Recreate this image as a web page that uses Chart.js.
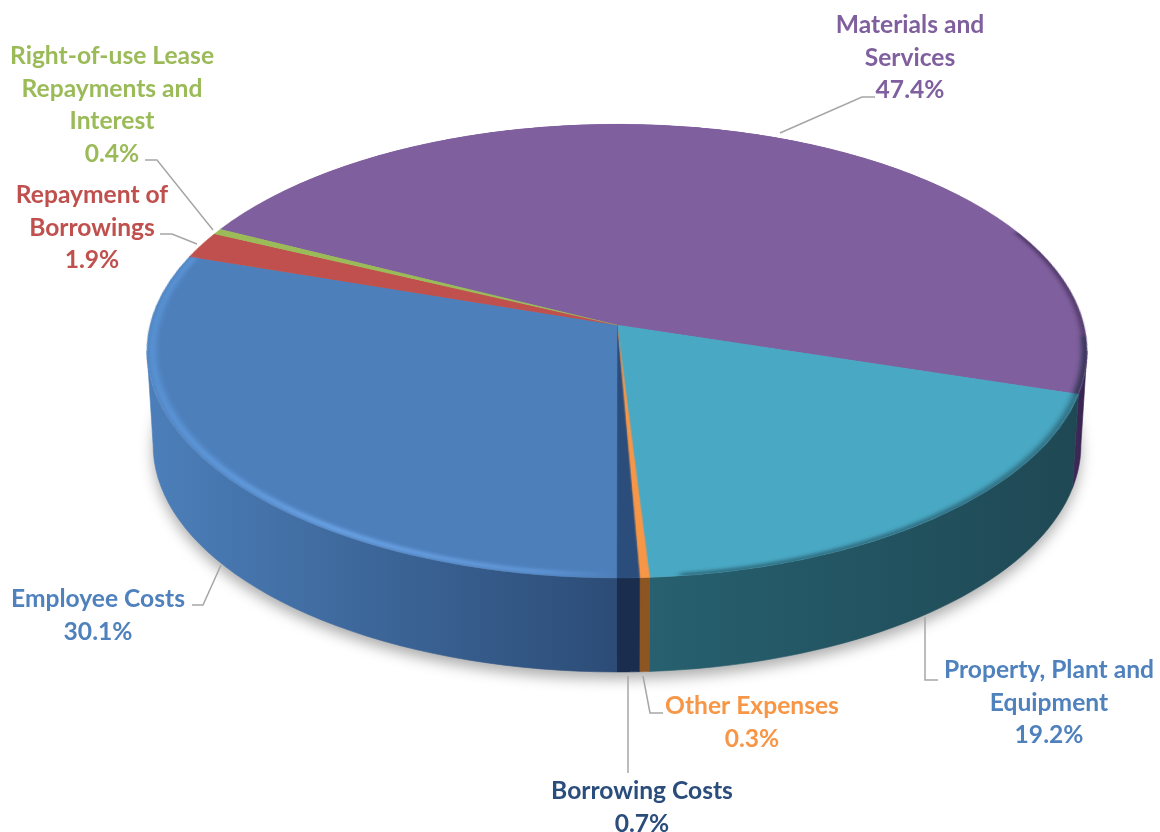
<!DOCTYPE html>
<html>
<head>
<meta charset="utf-8">
<title>Expenditure by category</title>
<script src="https://cdn.jsdelivr.net/npm/chart.js@4/dist/chart.umd.js"></script>
<style>
  html, body { margin: 0; padding: 0; background: #fff; }
  #wrap { position: relative; width: 1160px; height: 832px; overflow: hidden; }
  #deck { position: absolute; left: 0; top: 0; }
  /* the pie is drawn round, then tilted in perspective around its own centre */
  #pie {
    position: absolute; left: 167px; top: -125px;
    transform-origin: 450px 450px;
  }
</style>
</head>
<body>
<div id="wrap">
  <canvas id="deck" width="1160" height="832"></canvas>
  <canvas id="pie" width="900" height="900"></canvas>
</div>
<script>
// Slices, clockwise from the upper left
const categories = ['Materials and Services', 'Property, Plant and Equipment', 'Other Expenses', 'Borrowing Costs', 'Employee Costs', 'Repayment of Borrowings', 'Right-of-use Lease Repayments and Interest'];
const shares = [47.4, 19.2, 0.3, 0.7, 30.1, 1.9, 0.4];

// Colours for the top face and the side wall (left end, right end)
const topColours = ['#7F5F9D', '#49A8C3', '#F79646', '#2A4D7C', '#4D7FBB', '#C0504D', '#9BBB59'];
const wallColours = [['#40295A', '#35234C'], ['#27606F', '#1F4854'], ['#8C5522', '#8C5522'], ['#1A2D4E', '#1A2D4E'], ['#4C7FBA', '#2C4C76'], ['#7A3230', '#7A3230'], ['#627A38', '#627A38']];
const labelColours = ['#7F5F9D', '#4F81BD', '#F79646', '#2A4D7C', '#4F81BD', '#C0504D', '#9BBB59'];

// Perspective of the disc: apex position on the page, scale and foreshortening
const apexX = 617;
const apexY = 325;
const tiltA = 466.9;
const tiltB = 224;
const tiltP = -0.1145;
const discDepth = 94;
const bottomShrink = 0.987;
const pieRadius = 440;
// rim angle where the disc outline is widest, the wall's silhouette starts there
const widestAngle = 0.115;

// Label text blocks, same order as categories
const labelBlocks = [
    { x: 910, y: 25, lines: ['Materials and', 'Services'] },
    { x: 1049, y: 670, lines: ['Property, Plant and', 'Equipment'] },
    { x: 752, y: 706, lines: ['Other Expenses'] },
    { x: 642, y: 791, lines: ['Borrowing Costs'] },
    { x: 98, y: 599, lines: ['Employee Costs'] },
    { x: 92, y: 195, lines: ['Repayment of', 'Borrowings'] },
    { x: 112, y: 56, lines: ['Right-of-use Lease', 'Repayments and', 'Interest'] }
];
const leaderLines = [
    [[875, 97], [862, 97], [780, 133]],
    [[938, 680], [925, 680], [925, 617]],
    [[663, 713], [650, 713], [643, 676]],
    [[628, 773], [628, 676]],
    [[192, 605], [203, 605], [221, 565]],
    [[160, 234], [172, 234], [197, 244]],
    [[145, 160], [157, 160], [213, 230]]
];

const pieCanvas = document.getElementById('pie');
pieCanvas.style.transform = 'matrix3d(' + [
    tiltA / pieRadius, 0, 0, 0,
    0, tiltB / pieRadius, 0, tiltP / pieRadius,
    0, 0, 1, 0,
    0, 0, 0, 1
].join(',') + ')';

// Where a rim angle lands on the page
function rimPoint(angle) {
    const w = 1 + tiltP * Math.sin(angle);
    return {
        x: apexX + tiltA * Math.cos(angle) / w,
        y: apexY + tiltB * Math.sin(angle) / w
    };
}

function basePoint(angle) {
    const p = rimPoint(angle);
    return { x: apexX + (p.x - apexX) * bottomShrink, y: p.y + discDepth };
}

function drawShadow(ctx) {
    ctx.save();
    ctx.filter = 'blur(7px)';
    ctx.fillStyle = 'rgba(0,0,0,0.32)';
    ctx.beginPath();
    for (let i = 0; i <= 120; i++) {
        const p = basePoint(i / 120 * Math.PI * 2);
        if (i === 0) ctx.moveTo(p.x, p.y + 7);
        else ctx.lineTo(p.x, p.y + 7);
    }
    ctx.fill();
    ctx.restore();
}

function drawWall(ctx, a0, a1, colours) {
    const top = [];
    const base = [];
    for (let i = 0; i <= 40; i++) {
        const a = a0 + (a1 - a0) * i / 40;
        top.push(rimPoint(a));
        base.push(basePoint(a));
    }
    const xs = top.concat(base).map(function(p) { return p.x; });
    const grad = ctx.createLinearGradient(Math.min.apply(null, xs), 0, Math.max.apply(null, xs), 0);
    grad.addColorStop(0, colours[0]);
    grad.addColorStop(1, colours[1]);
    ctx.beginPath();
    top.forEach(function(p, i) {
        if (i === 0) ctx.moveTo(p.x, p.y);
        else ctx.lineTo(p.x, p.y);
    });
    base.reverse().forEach(function(p) { ctx.lineTo(p.x, p.y); });
    ctx.closePath();
    ctx.fillStyle = grad;
    ctx.fill();
    ctx.strokeStyle = grad;
    ctx.lineWidth = 0.6;
    ctx.stroke();
}

function drawAnnotations(ctx) {
    ctx.strokeStyle = '#A6A6A6';
    ctx.lineWidth = 1.5;
    leaderLines.forEach(function(line) {
        ctx.beginPath();
        line.forEach(function(pt, j) {
            if (j === 0) ctx.moveTo(pt[0], pt[1]);
            else ctx.lineTo(pt[0], pt[1]);
        });
        ctx.stroke();
    });

    ctx.font = 'bold 24.6px Lato';
    ctx.textAlign = 'center';
    ctx.textBaseline = 'middle';
    labelBlocks.forEach(function(block, i) {
        ctx.fillStyle = labelColours[i];
        const lines = block.lines.concat(shares[i].toFixed(1) + '%');
        lines.forEach(function(text, j) {
            ctx.fillText(text, block.x, block.y + j * 32.7);
        });
    });
}

const discPlugin = {
    id: 'disc',
    beforeDatasetsDraw(chart) {
        const deck = document.getElementById('deck').getContext('2d');
        deck.clearRect(0, 0, 1160, 832);
        drawShadow(deck);

        // side wall, only the part that faces the viewer
        chart.getDatasetMeta(0).data.forEach(function(arc, i) {
            const p = arc.getProps(['startAngle', 'endAngle'], true);
            const a0 = Math.max(p.startAngle, widestAngle);
            const a1 = Math.min(p.endAngle, Math.PI - widestAngle);
            if (a1 > a0) drawWall(deck, a0, a1, wallColours[i]);
        });
        drawAnnotations(deck);
    },
    afterDatasetsDraw(chart) {
        // soft bevel on the rim of the face, kept inside the disc
        const ctx = chart.ctx;
        const arcs = chart.getDatasetMeta(0).data;
        const c = arcs[0].getProps(['x', 'y', 'outerRadius', 'startAngle', 'endAngle'], true);
        const employee = arcs[4].getProps(['startAngle', 'endAngle'], true);
        const rimStroke = function(radius, from, to, colour, width, blur) {
            ctx.filter = 'blur(' + blur + 'px)';
            ctx.strokeStyle = colour;
            ctx.lineWidth = width;
            ctx.beginPath();
            ctx.arc(c.x, c.y, radius, from, to);
            ctx.stroke();
        };
        const light = ctx.createLinearGradient(c.x - c.outerRadius, 0, c.x, 0);
        light.addColorStop(0, 'rgba(100,165,235,0.5)');
        light.addColorStop(0.45, 'rgba(112,170,238,0.85)');
        light.addColorStop(0.85, 'rgba(112,170,238,0.55)');
        light.addColorStop(1, 'rgba(112,170,238,0)');
        ctx.save();
        ctx.beginPath();
        ctx.arc(c.x, c.y, c.outerRadius, 0, Math.PI * 2);
        ctx.clip();
        rimStroke(c.outerRadius - 5, employee.startAngle, employee.endAngle, light, 7, 2.5);
        rimStroke(c.outerRadius - 1, 0.05, 1.45, 'rgba(30,70,85,0.6)', 7, 2.5);
        rimStroke(c.outerRadius - 1, -0.45, c.endAngle, 'rgba(45,30,65,0.7)', 5, 2.5);
        ctx.restore();
    }
};

var ctxPie = pieCanvas.getContext('2d');
var pieChart = new Chart(ctxPie, {
    type: 'pie',
    data: {
        labels: categories,
        datasets: [{
            data: shares,
            backgroundColor: topColours,
            borderColor: topColours,
            borderWidth: 0.6,
            clip: false
        }]
    },
    options: {
        responsive: false,
        animation: false,
        radius: pieRadius,
        rotation: -63.3,
        plugins: {
            legend: { display: false },
            tooltip: { enabled: false }
        }
    },
    plugins: [discPlugin]
});
</script>
</body>
</html>
